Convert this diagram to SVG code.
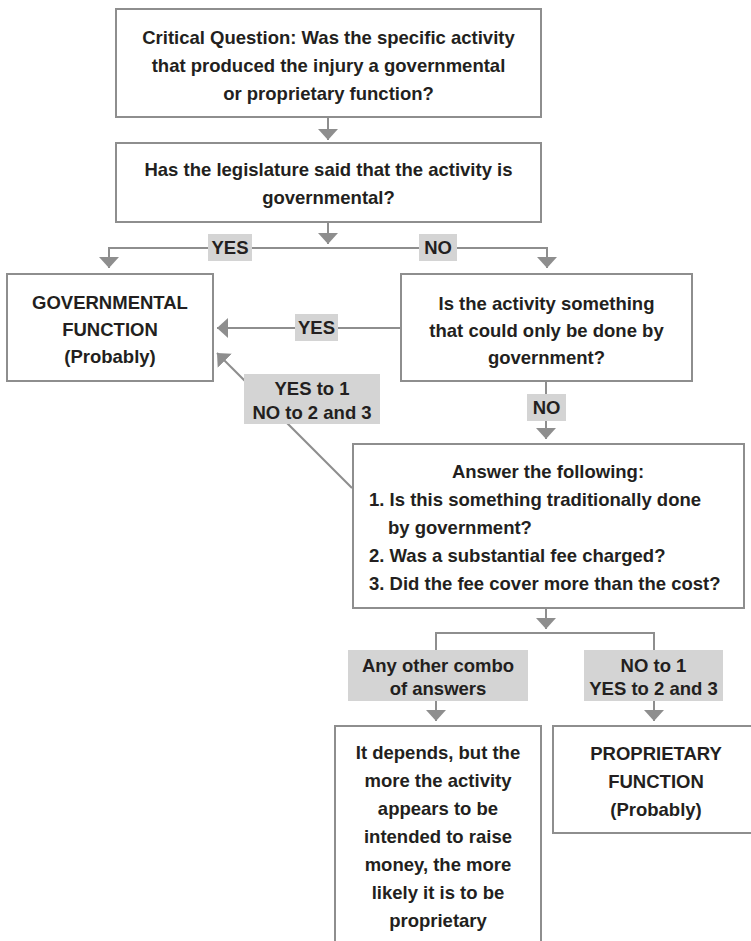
<svg xmlns="http://www.w3.org/2000/svg" width="751" height="941" viewBox="0 0 751 941">
<defs>
<style>
.box{fill:#ffffff;stroke:#8e8e8e;stroke-width:2}
.lbl{fill:#d4d4d4;stroke:none}
.t{font-family:"Liberation Sans",Arial,sans-serif;font-weight:bold;font-size:18.5px;fill:#231f20;text-anchor:middle}
.tl{font-family:"Liberation Sans",Arial,sans-serif;font-weight:bold;font-size:18.5px;fill:#231f20;text-anchor:start}
.c{fill:none;stroke:#8e8e8e;stroke-width:2}
.a{marker-end:url(#ah)}
</style>
<marker id="ah" markerUnits="userSpaceOnUse" markerWidth="12" markerHeight="20" refX="11" refY="10" orient="auto">
<path d="M0,0 L11,10 L0,20 z" fill="#8e8e8e"/>
</marker>
</defs>
<rect width="751" height="941" fill="#ffffff"/>

<g id="connectors">
<path class="c a" d="M328,117 V140"/>
<path class="c a" d="M328,222 V244"/>
<path class="c a" d="M328,248 H109 V268"/>
<path class="c a" d="M328,248 H547 V268"/>
<path class="c a" d="M401,328 H217"/>
<path class="c a" d="M352,488 L217,353"/>
<path class="c a" d="M546,381 V439"/>
<path class="c a" d="M546,608 V629"/>
<path class="c a" d="M546,633 H436 V721"/>
<path class="c a" d="M546,633 H654 V721"/>
</g>

<g id="label-yes1">
<rect class="lbl" x="208" y="234" width="44" height="27"/>
<text class="t" x="230" y="254">YES</text>
</g>
<g id="label-no1">
<rect class="lbl" x="419" y="234" width="38" height="27"/>
<text class="t" x="438" y="254">NO</text>
</g>
<g id="label-yes2">
<rect class="lbl" x="295" y="314" width="43" height="27"/>
<text class="t" x="316.5" y="334">YES</text>
</g>
<g id="label-no2">
<rect class="lbl" x="527" y="394" width="39" height="27"/>
<text class="t" x="546.5" y="414">NO</text>
</g>
<g id="label-yes-to-1">
<rect class="lbl" x="244" y="374" width="136" height="50"/>
<text class="t" x="312" y="395">YES to 1</text>
<text class="t" x="312" y="419">NO to 2 and 3</text>
</g>
<g id="label-any-other">
<rect class="lbl" x="348" y="650" width="180" height="51"/>
<text class="t" x="438" y="672">Any other combo</text>
<text class="t" x="438" y="695">of answers</text>
</g>
<g id="label-no-to-1">
<rect class="lbl" x="584" y="650" width="139" height="51"/>
<text class="t" x="653.5" y="672">NO to 1</text>
<text class="t" x="653.5" y="695">YES to 2 and 3</text>
</g>

<g id="critical-question">
<rect class="box" x="116" y="9" width="425" height="108"/>
<text class="t" x="328.5" y="44">Critical Question: Was the specific activity</text>
<text class="t" x="328.5" y="72">that produced the injury a governmental</text>
<text class="t" x="328.5" y="100">or proprietary function?</text>
</g>

<g id="legislature">
<rect class="box" x="116" y="143" width="425" height="79"/>
<text class="t" x="328.5" y="176">Has the legislature said that the activity is</text>
<text class="t" x="328.5" y="204">governmental?</text>
</g>

<g id="governmental">
<rect class="box" x="7" y="274" width="206" height="107"/>
<text class="t" x="110" y="309">GOVERNMENTAL</text>
<text class="t" x="110" y="336">FUNCTION</text>
<text class="t" x="110" y="363">(Probably)</text>
</g>

<g id="only-government">
<rect class="box" x="401" y="274" width="291" height="107"/>
<text class="t" x="546.5" y="310">Is the activity something</text>
<text class="t" x="546.5" y="337">that could only be done by</text>
<text class="t" x="546.5" y="364">government?</text>
</g>

<g id="answer-following">
<rect class="box" x="353" y="444" width="391" height="164"/>
<text class="t" x="548" y="478">Answer the following:</text>
<text class="tl" x="369" y="506">1. Is this something traditionally done</text>
<text class="tl" x="388" y="534">by government?</text>
<text class="tl" x="369" y="562">2. Was a substantial fee charged?</text>
<text class="tl" x="369" y="590">3. Did the fee cover more than the cost?</text>
</g>

<g id="it-depends">
<path class="c" d="M335,945 V726 H541 V945"/>
<text class="t" x="438" y="759">It depends, but the</text>
<text class="t" x="438" y="787">more the activity</text>
<text class="t" x="438" y="815">appears to be</text>
<text class="t" x="438" y="843">intended to raise</text>
<text class="t" x="438" y="871">money, the more</text>
<text class="t" x="438" y="899">likely it is to be</text>
<text class="t" x="438" y="927">proprietary</text>
</g>

<g id="proprietary">
<path class="c" d="M755,726 H553 V833 H755"/>
<text class="t" x="656" y="760">PROPRIETARY</text>
<text class="t" x="656" y="788">FUNCTION</text>
<text class="t" x="656" y="816">(Probably)</text>
</g>
</svg>
